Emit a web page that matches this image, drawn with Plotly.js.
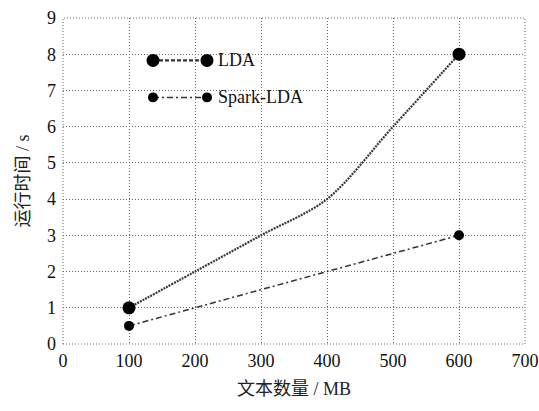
<!DOCTYPE html>
<html>
<head>
<meta charset="utf-8">
<script src="https://cdn.plot.ly/plotly-3.0.1.min.js"></script>
<style>html,body{margin:0;padding:0;background:#fff;}#chart{width:539px;height:411px;}</style>
</head>
<body>
<div id="chart"></div>
<script>
const sizes = [100, 200, 300, 400, 500, 600];
const ldaTime = [1.0, 2.0, 3.0, 4.0, 6.0, 8.0];
const sparkTime = [0.5, 1.0, 1.5, 2.0, 2.5, 3.0];
const seriesNames = ['LDA', 'Spark-LDA'];
const xTicks = [0, 100, 200, 300, 400, 500, 600, 700];
const yTicks = [0, 1, 2, 3, 4, 5, 6, 7, 8, 9];

const endOpacity = sizes.map((_, i) => (i === 0 || i === sizes.length - 1) ? 1 : 0);
const serif = 'Liberation Serif, Times New Roman, serif';
const cjk = 'Liberation Serif, Noto Sans CJK SC, serif';
const ldaDash = '2px,1px';
const sparkDash = '6px,3px,2px,3px';
const gridDash = '1px,2px';

const traces = [
  {
    x: sizes, y: ldaTime, name: seriesNames[0], mode: 'lines+markers', showlegend: false,
    line: {color: '#3a3a3a', width: 2.2, dash: ldaDash, shape: 'spline', smoothing: 0.9},
    marker: {color: '#000', size: 13, symbol: 'circle', opacity: endOpacity}
  },
  {
    x: sizes, y: sparkTime, name: seriesNames[1], mode: 'lines+markers', showlegend: false,
    line: {color: '#333', width: 1.5, dash: sparkDash},
    marker: {color: '#000', size: 10, symbol: 'circle', opacity: endOpacity}
  }
];

const legRows = [{y: 60, dash: '4px,2px', w: 2.2, s: 13}, {y: 97, dash: sparkDash, w: 1.5, s: 10}];
const W = 539, H = 411, L = 63, T = 17.5, PW = 462, PH = 326.5;
const px = v => (v - L) / PW;
const py = v => 1 - (v - T) / PH;
const shapes = [{type: 'rect', xref: 'paper', yref: 'paper', x0: 0, x1: 1, y0: 0, y1: 1, layer: 'below',
  line: {color: '#666', width: 1, dash: gridDash}}];
const annotations = [];
legRows.forEach((r, i) => {
  shapes.push({type: 'line', xref: 'paper', yref: 'paper', x0: px(153), x1: px(207), y0: py(r.y), y1: py(r.y),
    line: {color: '#333', width: r.w, dash: r.dash}});
  [153, 207].forEach(cx => {
    shapes.push({type: 'circle', xref: 'paper', yref: 'paper', x0: px(cx - r.s / 2), x1: px(cx + r.s / 2),
      y0: py(r.y + r.s / 2), y1: py(r.y - r.s / 2), fillcolor: '#000', line: {color: '#000', width: 0}});
  });
  annotations.push({xref: 'paper', yref: 'paper', x: px(216), y: py(r.y), xanchor: 'left', yanchor: 'middle',
    text: seriesNames[i], showarrow: false, font: {family: serif, size: 18, color: '#111'}});
});

const layout = {
  width: W, height: H,
  margin: {l: L, r: W - L - PW, t: T, b: H - T - PH},
  paper_bgcolor: '#fff', plot_bgcolor: '#fff',
  font: {family: serif, size: 18, color: '#111'},
  xaxis: {
    range: [0, 700], tickvals: xTicks, ticktext: xTicks.map(String), showgrid: true,
    gridcolor: '#666', griddash: gridDash, gridwidth: 1, zeroline: false, showline: false, ticks: '',
    ticklabelstandoff: 4,
    tickfont: {family: serif, size: 18, color: '#111'},
    title: {text: '文本数量 / MB', font: {family: cjk, size: 18, color: '#222'}, standoff: 12}
  },
  yaxis: {
    range: [0, 9], tickvals: yTicks, ticktext: yTicks.map(String), showgrid: true,
    gridcolor: '#666', griddash: gridDash, gridwidth: 1, zeroline: false, showline: false, ticks: '',
    ticklabelstandoff: 6,
    tickfont: {family: serif, size: 18, color: '#111'},
    title: {text: '运行时间 / s', font: {family: cjk, size: 18, color: '#222'}, standoff: 12}
  },
  shapes: shapes,
  annotations: annotations
};

Plotly.newPlot('chart', traces, layout, {displayModeBar: false, staticPlot: true});
</script>
</body>
</html>
